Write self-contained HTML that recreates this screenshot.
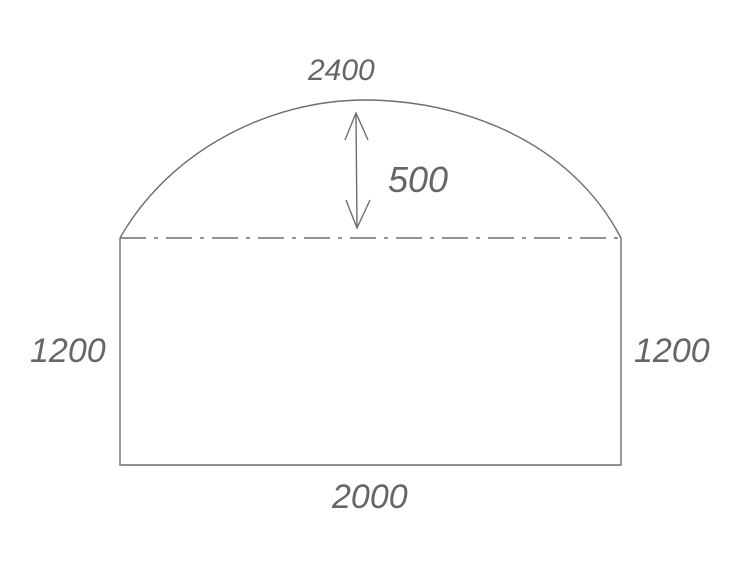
<!DOCTYPE html>
<html><head><meta charset="utf-8"><style>
html,body{margin:0;padding:0;background:#fff;width:749px;height:575px;overflow:hidden}
svg text{font-family:"Liberation Sans",sans-serif;font-weight:normal;fill:#666;font-style:italic}
</style></head><body>
<svg width="749" height="575" viewBox="0 0 749 575">
<g stroke="#6e6e6e" stroke-width="1.4" fill="none">
<path d="M120,238 C170,150 270,100 365,100 C460,100 570,140 621,238"/>
<line x1="120" y1="238" x2="621" y2="238" stroke-dasharray="26,8,4,8"/>
<path d="M120,238 L120,465 L621,465 L621,238"/>
<path d="M356,113 L357,228 M345,140 L356,113 L368,140 M346,200 L357,228 L370,200"/>
</g>
<text x="308" y="80" font-size="30" transform="scale(1,1)">2400</text>
<text x="388" y="192" font-size="36">500</text>
<text x="30" y="362" font-size="34">1200</text>
<text x="634" y="362" font-size="34">1200</text>
<text x="332" y="508" font-size="34">2000</text>
</svg>
</body></html>
